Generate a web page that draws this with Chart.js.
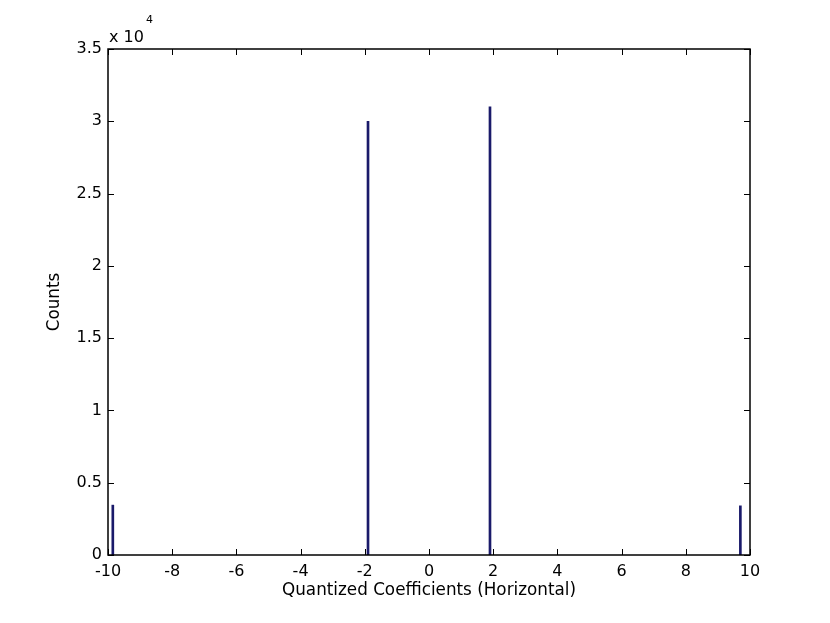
<!DOCTYPE html>
<html>
<script src="https://cdn.jsdelivr.net/npm/chart.js@4.4.1/dist/chart.umd.min.js"></script>
<body style="margin:0;background:#fff">
<div style="width:830px;height:623px"><canvas id="myChart" width="830" height="623"></canvas></div>

<script>
    // histogram values
    const coeffs = [-9.85, -1.9, 1.9, 9.7];
    const counts = [3450, 30000, 31000, 3400];
    const xTicks = [-10, -8, -6, -4, -2, 0, 2, 4, 6, 8, 10];
    const yTicks = [0, 5000, 10000, 15000, 20000, 25000, 30000, 35000];

    const font = "'DejaVu Sans', sans-serif";

    // matlab style box with inward ticks + exponent label
    const boxPlugin = {
        id: "box",
        afterDraw(chart) {
            const ctx = chart.ctx;
            const a = chart.chartArea;
            const xs = chart.scales.x, ys = chart.scales.y;
            ctx.save();
            ctx.strokeStyle = "#000";
            ctx.lineWidth = 1.5;
            ctx.strokeRect(a.left, a.top, a.right - a.left, a.bottom - a.top);
            ctx.lineWidth = 1;
            ctx.beginPath();
            xTicks.forEach(v => {
                const px = Math.round(xs.getPixelForValue(v)) + 0.5;
                ctx.moveTo(px, a.bottom); ctx.lineTo(px, a.bottom - 6);
                ctx.moveTo(px, a.top); ctx.lineTo(px, a.top + 6);
            });
            yTicks.forEach(v => {
                const py = Math.round(ys.getPixelForValue(v)) + 0.5;
                ctx.moveTo(a.left, py); ctx.lineTo(a.left + 6, py);
                ctx.moveTo(a.right, py); ctx.lineTo(a.right - 6, py);
            });
            ctx.stroke();
            ctx.fillStyle = "#000";
            ctx.font = "16px " + font;
            ctx.textBaseline = "alphabetic";
            ctx.textAlign = "left";
            ctx.fillText("x 10", a.left + 1, a.top - 7);
            ctx.font = "11px " + font;
            ctx.fillText("4", a.left + 38, a.top - 26);
            ctx.restore();
        }
    };

    const myChart = new Chart("myChart", {
        type: "bar",
        data: {
            datasets: [{
                data: coeffs.map((c, i) => ({x: c, y: counts[i]})),
                backgroundColor: "#1a1a6a",
                barThickness: 2
            }]
        },
        options: {
            responsive: false,
            animation: false,
            layout: {padding: {left: 0, right: 80, top: 49, bottom: 0}},
            plugins: {legend: {display: false}, tooltip: {enabled: false}},
            scales: {
                x: {
                    type: "linear",
                    min: -10, max: 10,
                    offset: false,
                    grid: {display: false},
                    border: {display: false},
                    afterBuildTicks: s => { s.ticks = xTicks.map(v => ({value: v})); },
                    afterFit: s => { s.height = 68; },
                    ticks: {color: "#000", font: {family: font, size: 16}, padding: -1, maxRotation: 0,
                        callback: v => String(v)},
                    title: {display: true, text: "Quantized Coefficients (Horizontal)", color: "#000",
                        font: {family: font, size: 16.8}, padding: {top: 0, bottom: 22}}
                },
                y: {
                    min: 0, max: 35000,
                    grid: {display: false},
                    border: {display: false},
                    afterBuildTicks: s => { s.ticks = yTicks.map(v => ({value: v})); },
                    afterFit: s => { s.width = 108; },
                    ticks: {color: "#000", font: {family: font, size: 16}, padding: -2,
                        callback: v => String(v / 10000)},
                    title: {display: true, text: "Counts", color: "#000",
                        font: {family: font, size: 16.8}, padding: {top: 45, bottom: 0}}
                }
            }
        },
        plugins: [boxPlugin]
    });
</script>
</body>
</html>
